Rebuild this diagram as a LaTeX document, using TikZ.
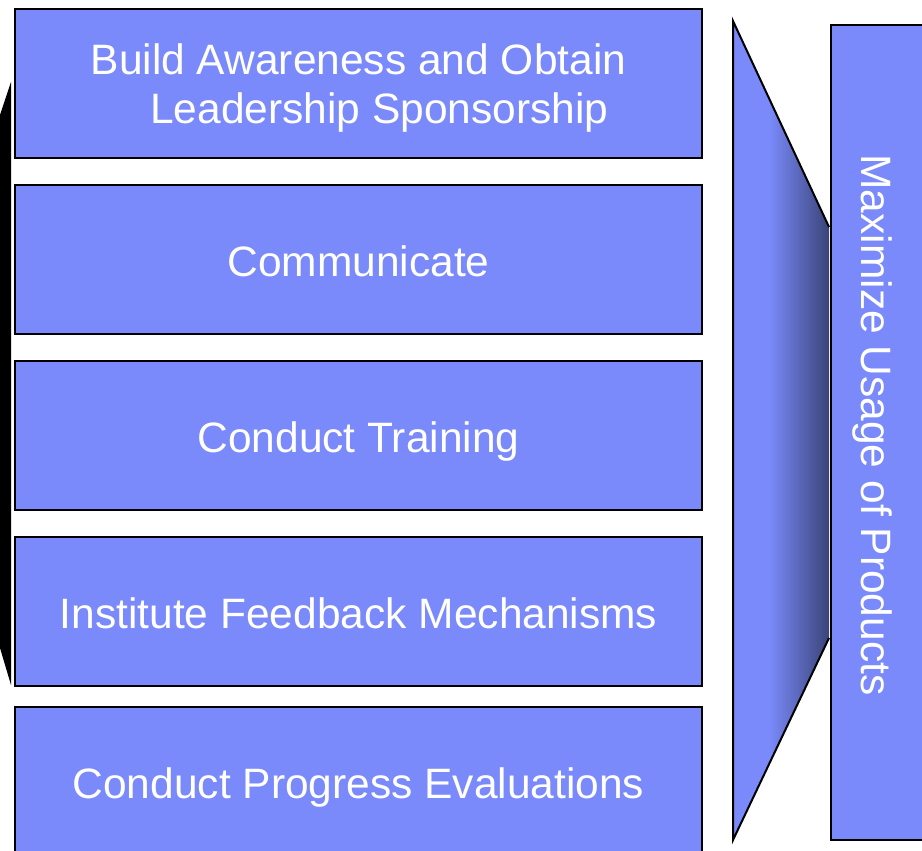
\documentclass[tikz,border=0pt]{standalone}
\usepackage{fontspec}
\setmainfont{Liberation Sans}
\definecolor{boxc}{RGB}{122,138,250}
\definecolor{darkf}{RGB}{58,68,120}
\pgfdeclarehorizontalshading{funnelshade}{100bp}{color(0bp)=(boxc); color(25bp)=(boxc); color(44bp)=(boxc); color(75bp)=(darkf); color(100bp)=(darkf)}
\begin{document}
\begin{tikzpicture}[x=1pt,y=-1pt,
  stepbox/.style={draw=black, line width=2pt, fill=boxc, minimum width=687pt,
    minimum height=149pt, anchor=north west, inner sep=0pt, text=white,
    align=center, font=\fontsize{42.5}{50}\selectfont,
    text height=40pt, text depth=7pt},
  goalbox/.style={draw=black, line width=2pt, fill=boxc, anchor=north west,
    minimum width=120pt, minimum height=815pt, inner sep=0pt},
  goaltext/.style={text=white, rotate=-90, anchor=base, inner sep=0pt,
    font=\fontsize{42.5}{50}\selectfont}]
\useasboundingbox (0,0) rectangle (922,851);
% black back shape at left edge
\coordinate (l1) at (0,115);
\coordinate (l2) at (11,82);
\coordinate (l3) at (11,685);
\coordinate (l4) at (0,648);
\fill[black] (l1) -- (l2) -- (l3) -- (l4) -- cycle;
% steps
\node[stepbox, text height=90pt, text depth=9pt] (s1) at (14,8) {Build Awareness and Obtain\\\hspace*{42pt}Leadership Sponsorship};
\node[stepbox] (s2) at (14,184) {Communicate};
\node[stepbox] (s3) at (14,360) {Conduct Training};
\node[stepbox] (s4) at (14,536) {Institute Feedback Mechanisms};
\node[stepbox] (s5) at (14,706) {Conduct Progress Evaluations};
% funnel
\coordinate (f1) at (733,21);
\coordinate (f2) at (829,227);
\coordinate (f3) at (829,638);
\coordinate (f4) at (733,840);
\shade[shading=funnelshade] (f1) -- (f2) -- (f3) -- (f4) -- cycle;
\draw[line width=2pt, line join=miter] (f2) -- (f1) -- (f4) -- (f3);
% goal box
\node[goalbox] (goal) at (830,24) {};
\node[goaltext] (goaltxt) at (861,425) {Maximize Usage of Products};
\end{tikzpicture}
\end{document}
